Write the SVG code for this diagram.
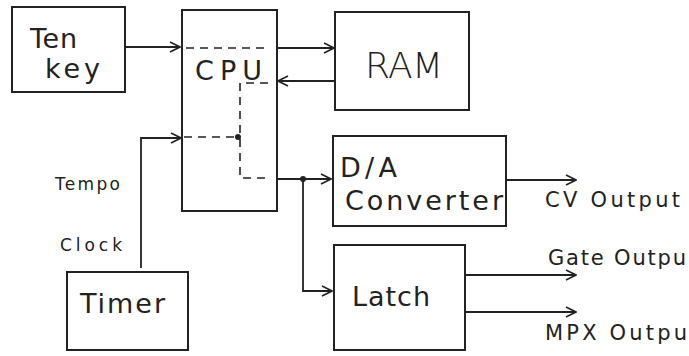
<svg xmlns="http://www.w3.org/2000/svg" width="689" height="356" viewBox="0 0 689 356">
<defs>
<marker id="ah" viewBox="0 0 12 12" refX="11" refY="6" markerWidth="12" markerHeight="12" markerUnits="userSpaceOnUse" orient="auto">
<path d="M1,1 L11,6 L1,11" fill="none" stroke="#222" stroke-width="1.6"/>
</marker>
<style>
.box{fill:#fff;stroke:#222;stroke-width:2}
.ln{fill:none;stroke:#222;stroke-width:1.8}
.dash{fill:none;stroke:#222;stroke-width:1.6;stroke-dasharray:8,6}
text{font-family:"DejaVu Sans","Liberation Sans",sans-serif;fill:#222}
.t{font-size:27px}
.s{font-size:17px}
.o{font-size:21px}
</style>
</defs>
<rect width="689" height="356" fill="#fff"/>
<g id="tenkey"><rect class="box" x="12" y="7" width="113" height="85"/><text class="t" x="30" y="48" textLength="47" lengthAdjust="spacing">Ten</text><text class="t" x="45" y="78" textLength="55" lengthAdjust="spacing">key</text></g>
<g id="cpu"><rect class="box" x="182" y="10" width="95" height="201"/><text class="t" x="195" y="80" textLength="67" lengthAdjust="spacing">CPU</text>
<path class="dash" d="M186,48 H270"/><path class="dash" d="M268,83 H240 V178 H270"/><path class="dash" d="M184,137 H238"/><circle cx="238" cy="137" r="3" fill="#222"/></g>
<g id="ram"><rect class="box" x="335" y="12" width="134" height="98"/><text x="365" y="78" font-size="36" textLength="78" lengthAdjust="spacing" font-family="DejaVu Sans" font-weight="300">RAM</text></g>
<g id="da"><rect class="box" x="333" y="136" width="173" height="90"/><text class="t" x="340" y="177" textLength="57" lengthAdjust="spacing">D/A</text><text class="t" x="345" y="210" textLength="158" lengthAdjust="spacing">Converter</text></g>
<g id="latch"><rect class="box" x="334" y="245" width="131" height="105"/><text class="t" x="352" y="306" textLength="78" lengthAdjust="spacing">Latch</text></g>
<g id="timer"><rect class="box" x="67" y="272" width="121" height="78"/><text class="t" x="80" y="313" textLength="85" lengthAdjust="spacing">Timer</text></g>
<g id="connectors">
<path class="ln" d="M125,47 H180" marker-end="url(#ah)"/>
<path class="ln" d="M277,48 H334" marker-end="url(#ah)"/>
<path class="ln" d="M335,81 H278" marker-end="url(#ah)"/>
<path class="ln" d="M277,179 H331" marker-end="url(#ah)"/>
<path class="ln" d="M303,179 V291 H332" marker-end="url(#ah)"/>
<circle cx="303" cy="179" r="3" fill="#222"/>
<path class="ln" d="M141,268 V138 H181" marker-end="url(#ah)"/>
<path class="ln" d="M506,180 H576" marker-end="url(#ah)"/>
<path class="ln" d="M465,275 H576" marker-end="url(#ah)"/>
<path class="ln" d="M465,312 H576" marker-end="url(#ah)"/>
</g>
<g id="labels">
<text class="s" x="55" y="190" textLength="65" lengthAdjust="spacing">Tempo</text>
<text class="s" x="60" y="251" textLength="62" lengthAdjust="spacing">Clock</text>
<text class="o" x="545" y="207" textLength="135" lengthAdjust="spacing">CV Output</text>
<text class="o" x="548" y="265" textLength="138" lengthAdjust="spacing">Gate Outpu</text>
<text class="o" x="545" y="340" textLength="142" lengthAdjust="spacing">MPX Outpu</text>
</g>
</svg>
